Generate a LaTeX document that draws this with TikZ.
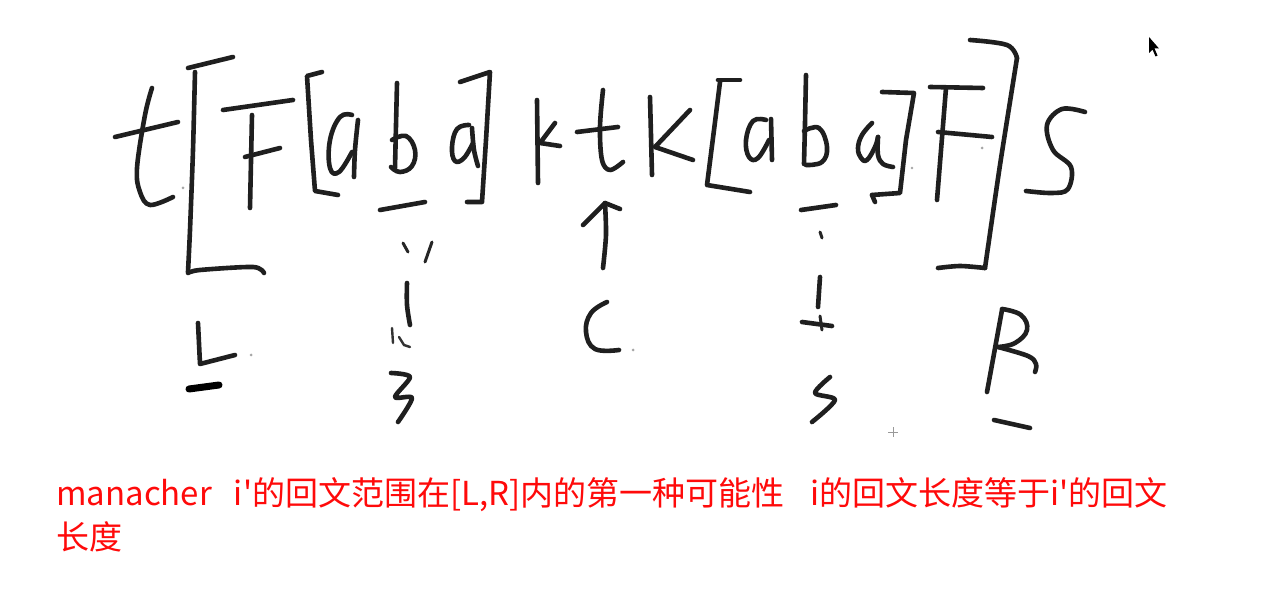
\documentclass[tikz,border=0pt]{standalone}
\usepackage{fontspec}
\newfontfamily\cjk[Ligatures=TeXOff]{Noto Sans CJK SC}
\begin{document}
\begin{tikzpicture}[x=1pt,y=-1pt,
  hw/.style={line width=4.6pt,line cap=round,line join=round,draw=black!88},
  thin/.style={line width=3pt,line cap=round,line join=round,draw=black!85},
  speck/.style={fill=black!35}]
\path[use as bounding box,fill=white] (0,0) rectangle (1261,609);
% t
\draw[hw] plot[smooth,tension=0.6] coordinates {(152,88) (145,115) (137,168) (140,192) (150,205) (173,197)};
\draw[hw] (115,137) -- (178,122);
% big [
\draw[hw] (188,68) -- (233,57);
\draw[hw] plot[smooth,tension=0.4] coordinates {(195,72) (193,150) (190,230) (188,272)};
\draw[hw] plot[smooth,tension=0.5] coordinates {(188,273) (200,270) (253,267) (264,273)};
% F
\draw[hw] (223,110) -- (293,100);
\draw[hw] (252,115) -- (250,208);
\draw[hw] (245,157) -- (280,148);
% small [
\draw[hw] (322,72) -- (307,76) -- (311,140) -- (315,191) -- (338,195);
% a
\draw[hw] plot[smooth,tension=0.7] coordinates {(352,115) (340,117) (330,140) (330,168) (339,172) (352,152)};
\draw[hw] plot[smooth,tension=0.6] coordinates {(358,120) (355,150) (354,177)};
% b
\draw[hw] plot[smooth,tension=0.5] coordinates {(397,83) (396,125) (395,168)};
\draw[hw] plot[smooth,tension=0.7] coordinates {(392,140) (406,136) (415,150) (412,166) (400,172) (391,167)};
\draw[hw] (380,210) -- (425,202);
% a
\draw[hw] plot[smooth,tension=0.7] coordinates {(469,125) (457,129) (452,147) (455,161) (464,158) (473,143)};
\draw[hw] plot[smooth,tension=0.6] coordinates {(472,128) (474,150) (478,166)};
% small ]
\draw[hw] (460,82) -- (490,72) -- (486,140) -- (482,202) -- (467,202);
% k
\draw[hw] (537,100) -- (538,183);
\draw[hw] (555,123) -- (540,143) -- (560,146);
% t
\draw[hw] plot[smooth,tension=0.6] coordinates {(603,90) (600,127) (602,160) (610,170) (623,162)};
\draw[hw] (577,132) -- (618,127);
% arrow towards the centre letter
\coordinate (cbot) at (603,268);
\coordinate (ctop) at (605,203);
\draw[hw] plot[smooth,tension=0.5] coordinates {(cbot) (606,235) (ctop)};
\draw[hw] (583,225) -- (ctop) -- (620,209);
% K
\draw[hw] (650,97) -- (652,175);
\draw[hw] (690,110) -- (655,147) -- (693,160);
% [
\draw[hw] (718,80) -- (740,80);
\draw[hw] (720,82) -- (714,130) -- (707,185) -- (750,192);
% a
\draw[hw] plot[smooth,tension=0.7] coordinates {(766,120) (753,121) (746,140) (749,157) (758,158) (769,140)};
\draw[hw] (771,119) -- (772,160);
% b
\draw[hw] plot[smooth,tension=0.5] coordinates {(806,75) (805,123) (804,164)};
\draw[hw] plot[smooth,tension=0.7] coordinates {(804,131) (819,128) (827,147) (822,162) (806,165)};
\draw[hw] (801,210) -- (836,205);
% a (u-like)
\draw[hw] plot[smooth,tension=0.7] coordinates {(872,123) (862,135) (858,148) (861,158) (867,160) (875,147) (878,137)};
\draw[hw] plot[smooth,tension=0.6] coordinates {(878,137) (878,155) (883,164) (893,167)};
% ]
\draw[hw] (882,92) -- (914,93) -- (906,140) -- (900,193) -- (872,195);
\draw[hw] (872,195) -- (875,202);
% F
\draw[hw] (930,87) -- (983,88);
\draw[hw] (946,88) -- (937,200);
\draw[hw] (938,132) -- (992,137);
% big ]
\draw[hw] plot[smooth,tension=0.6] coordinates {(970,40) (1007,45) (1017,58)};
\draw[hw] plot[smooth,tension=0.4] coordinates {(1017,58) (1000,165) (985,268)};
\draw[hw] plot[smooth,tension=0.5] coordinates {(985,268) (960,266) (938,268)};
% S
\draw[hw] plot[smooth,tension=0.6] coordinates {(1085,112) (1062,109) (1047,125) (1053,150) (1071,167) (1068,189) (1052,193) (1026,191)};
% cursor
\fill[black] (1149,37) -- (1149,53) -- (1152.5,49.5) -- (1155.5,56.5) -- (1157.5,55.5) -- (1154.5,48.5) -- (1159,48.5) -- cycle;

% left i under b
\draw[thin] (403,243) -- (408,252);
\draw[thin] (432,242) -- (425,262);
\draw[hw] plot[smooth,tension=0.6] coordinates {(407,283) (407,305) (410,325)};
\draw[line width=2.4pt,line cap=round,draw=black!80] (392,328) -- (393,343);
\draw[line width=2.4pt,line cap=round,draw=black!80] (399,337) -- (404,345) -- (410,347);
\draw[hw] plot[smooth,tension=0.5] coordinates {(391,373) (410,377) (395,397) (412,398) (398,422)};
% L
\draw[hw] (198,323) -- (200,364) -- (235,355);
\draw[line width=7pt,line cap=round,draw=black] (189,389) -- (219,385);
% C
\draw[hw] plot[smooth,tension=0.7] coordinates {(607,302) (591,313) (586,332) (595,349) (619,350)};
% right i under b
\draw[thin] (820,232) -- (822,238);
\draw[hw] (820,277) -- (818,307);
\draw[hw] (802,322) -- (832,326);
\draw[thin] (820,316) -- (822,330);
\draw[hw] plot[smooth,tension=0.5] coordinates {(830,377) (815,393) (835,400) (812,422)};
% R
\draw[hw] (1002,310) -- (987,392);
\draw[hw] plot[smooth,tension=0.7] coordinates {(1002,309) (1021,315) (1027,330) (1015,343) (998,347)};
\draw[hw] plot[smooth,tension=0.6] coordinates {(998,347) (1028,356) (1036,364) (1035,372)};
\draw[hw] (994,420) -- (1030,428);
% small plus and specks
\draw[black!40,line width=1pt] (888,432) -- (898,432) (893,427) -- (893,437);
\fill[speck] (183,188) circle (1.5) (251,355) circle (1.5) (633,350) circle (1.5) (982,148) circle (1.5) (912,168) circle (1.3);

% caption
\node[anchor=north west,align=left,text={rgb,255:red,255;green,10;blue,10},inner sep=0pt,
  font=\cjk\fontsize{33}{44}\selectfont] (cap) at (56,477)
  {manacher\hspace{22pt}i'的回文范围在[L,R]内的第一种可能性\hspace{26pt}i的回文长度等于i'的回文\\长度};
\end{tikzpicture}
\end{document}
